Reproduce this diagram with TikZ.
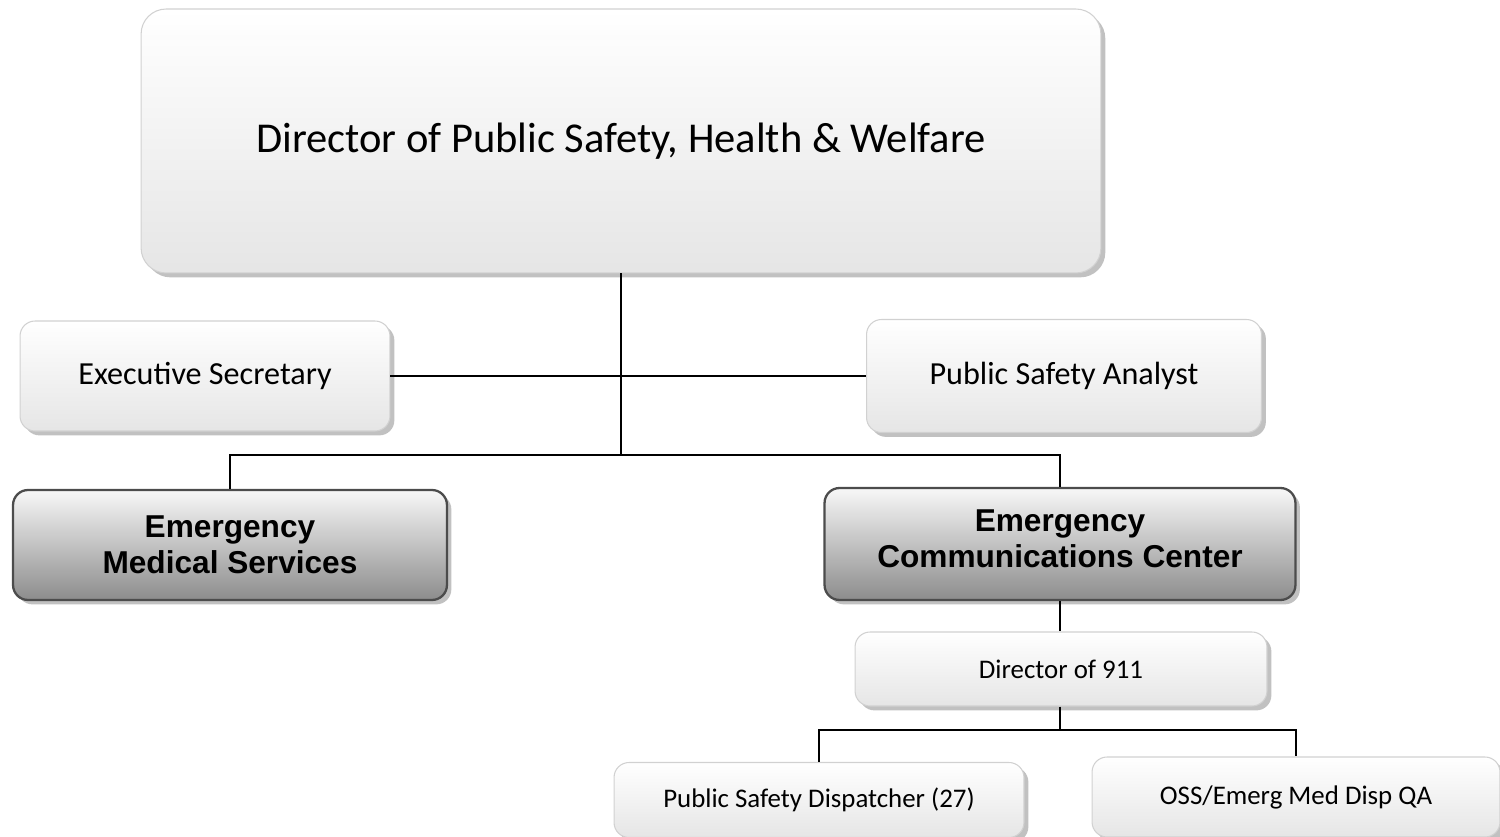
\documentclass[tikz,border=0pt]{standalone}
\usepackage{fontspec}
\setmainfont{Carlito}
\newfontfamily\arialfont{Liberation Sans}
\usetikzlibrary{shadows}

\tikzset{
  unit/.style={rounded corners=0.3cm, draw=black!18, line width=0.6pt,
    shading=axis, top color=white, bottom color=black!10,
    drop shadow={shadow xshift=2.5pt, shadow yshift=-2.5pt, fill=black!35, opacity=.7},
    align=center, inner sep=0pt},
  dept/.style={rounded corners=0.3cm, draw=black!70, line width=1.3pt,
    shading=axis, top color=black!3, bottom color=black!45,
    drop shadow={shadow xshift=2.5pt, shadow yshift=-2.5pt, fill=black!35, opacity=.7},
    align=center, inner sep=0pt, font=\arialfont\bfseries\fontsize{18}{20.5}\selectfont},
  link/.style={line width=1.1pt}
}

\begin{document}
\begin{tikzpicture}[x=0.02cm, y=-0.02cm]
   \useasboundingbox (0,0) rectangle (1500,837);
   % top of the chart
   \node[unit, rounded corners=0.5cm, minimum width=19.2cm, minimum height=5.28cm,
         font=\fontsize{24.2}{29}\selectfont] (director) at (621,141)
         {Director of Public Safety, Health \& Welfare};
   % staff
   \node[unit, minimum width=7.4cm, minimum height=2.2cm, font=\fontsize{18.3}{22}\selectfont]
         (secretary) at (205,376) {Executive Secretary};
   \node[unit, minimum width=7.9cm, minimum height=2.26cm, font=\fontsize{18.3}{22}\selectfont]
         (analyst) at (1064,376) {Public Safety Analyst};
   % departments
   \node[dept, minimum width=8.68cm, minimum height=2.2cm] (ems) at (230,545)
         {Emergency\\Medical Services};
   \node[dept, minimum width=9.42cm, minimum height=2.24cm] (ecc) at (1060,544)
         {Emergency\\Communications Center\\[-14.9pt]};
   % 911
   \node[unit, minimum width=8.24cm, minimum height=1.48cm, font=\fontsize{15.3}{18}\selectfont]
         (dir911) at (1061,669) {Director of 911};
   \node[unit, minimum width=8.2cm, minimum height=1.5cm, font=\fontsize{15.3}{18}\selectfont]
         (dispatcher) at (819,800) {Public Safety Dispatcher (27)};
   \node[unit, minimum width=8.16cm, minimum height=1.6cm, font=\fontsize{15.3}{18}\selectfont]
         (qa) at (1296,797) {OSS/Emerg Med Disp QA};
   % connectors
   \coordinate (hub) at (621,455);
   \coordinate (split) at (1060,730);
   \draw[link] (director) -- (hub);
   \draw[link] (secretary) -- (analyst);
   \draw[link] (ems.north) |- (hub) -| (ecc.north);
   \draw[link] (ecc.south) -- (ecc.south |- dir911.north);
   \draw[link] (split |- dir911.south) -- (split);
   \draw[link] (dispatcher.north) |- (split) -| (qa.north);
  \end{tikzpicture}
\end{document}
